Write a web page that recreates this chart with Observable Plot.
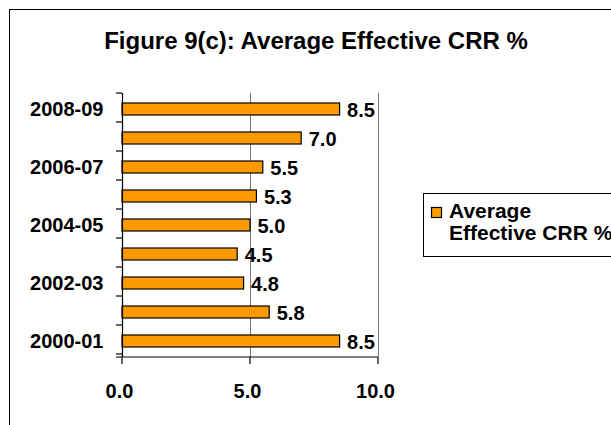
<!DOCTYPE html>
<html><head><meta charset="utf-8">
<script src="https://cdn.jsdelivr.net/npm/d3@7"></script>
<script src="https://cdn.jsdelivr.net/npm/@observablehq/plot@0.6"></script>
<style>
body{margin:0;background:#fff}
svg{font-family:"Liberation Sans",Arial,sans-serif}
</style>
</head><body><div id="chart"></div>
<script>
const years = ["2000-01","2001-02","2002-03","2003-04","2004-05","2005-06","2006-07","2007-08","2008-09"];
const crr = [8.5, 5.75, 4.75, 4.5, 5.0, 5.25, 5.5, 7.0, 8.5];
const xTicks = [0, 5, 10];
const gridValues = [5, 10];
const yLabelYears = ["2000-01","2002-03","2004-05","2006-07","2008-09"];
const titleText = "Figure 9(c): Average Effective CRR %";
const legendLines = ["Average", "Effective CRR %"];

const data = years.map((y, i) => ({year: y, value: crr[i]}));
const fmt = d => d.toFixed(1);

const W = 611, H = 425;
const chart = Plot.plot({
  width: W, height: H,
  marginLeft: 122, marginRight: 233, marginTop: 93, marginBottom: 68,
  style: {background: "#fff", color: "#000", fontFamily: "'Liberation Sans', Arial, sans-serif"},
  x: {domain: [0, 10], label: null},
  y: {domain: [...years].reverse(), paddingInner: 0.6, paddingOuter: 0.3, label: null},
  marks: [
    Plot.ruleX(gridValues, {stroke: "#777", strokeWidth: 1}),
    Plot.barX(data, {x: "value", y: "year", fill: "#ff9900", stroke: "#000", strokeWidth: 1.2}),
    Plot.text(data, {x: "value", y: "year", text: d => fmt(d.value), textAnchor: "start", dx: 7, dy: 1,
      fontSize: 20, fontWeight: "bold", fill: "#000"}),
    Plot.axisX({ticks: xTicks, tickFormat: fmt, tickSize: 0, tickPadding: 26, fontSize: 20, fontWeight: "bold", dx: -3, label: null}),
    Plot.axisY({ticks: yLabelYears, tickSize: 0, tickPadding: 19, fontSize: 20, fontWeight: "bold", label: null}),
    Plot.ruleX([0], {stroke: "#000", strokeWidth: 1.2})
  ]
});

const svg = d3.select(chart);
const xs = chart.scale("x");
const ys = chart.scale("y");
const [y0, y1] = ys.range;
const xLeft = xs.apply(0), xRight = xs.apply(10);

// x axis line and ticks
svg.append("line").attr("x1", xLeft - 6).attr("x2", xRight).attr("y1", y1).attr("y2", y1)
  .attr("stroke", "#000").attr("stroke-width", 1.2);
xTicks.forEach(t => {
  svg.append("line").attr("x1", xs.apply(t)).attr("x2", xs.apply(t)).attr("y1", y1).attr("y2", y1 + 7)
    .attr("stroke", "#000").attr("stroke-width", 1.2);
});
// y axis category boundary ticks
for (let i = 0; i <= years.length; i++) {
  const yy = y0 + i * ys.step;
  svg.append("line").attr("x1", xLeft - 6).attr("x2", xLeft).attr("y1", yy).attr("y2", yy)
    .attr("stroke", "#000").attr("stroke-width", 1.2);
}

// outer chart frame
svg.append("rect").attr("x", 9.5).attr("y", 9.5).attr("width", 640).attr("height", 440)
  .attr("fill", "none").attr("stroke", "#000").attr("stroke-width", 1);

// title
svg.append("text").attr("x", 316).attr("y", 49).attr("text-anchor", "middle")
  .attr("font-size", 24).attr("font-weight", "bold").attr("fill", "#000").text(titleText);

// legend
const lg = svg.append("g").attr("text-anchor", "start");
lg.append("rect").attr("x", 423.5).attr("y", 193.5).attr("width", 220).attr("height", 63)
  .attr("fill", "#fff").attr("stroke", "#000").attr("stroke-width", 1);
lg.append("rect").attr("x", 431.5).attr("y", 207.5).attr("width", 10).attr("height", 10)
  .attr("fill", "#ff9900").attr("stroke", "#000").attr("stroke-width", 1.2);
legendLines.forEach((t, i) => {
  lg.append("text").attr("x", 449).attr("y", 218 + i * 22).attr("text-anchor", "start")
    .attr("font-size", 21).attr("font-weight", "bold").attr("fill", "#000").text(t);
});

document.getElementById("chart").appendChild(chart);
</script>
</body></html>
